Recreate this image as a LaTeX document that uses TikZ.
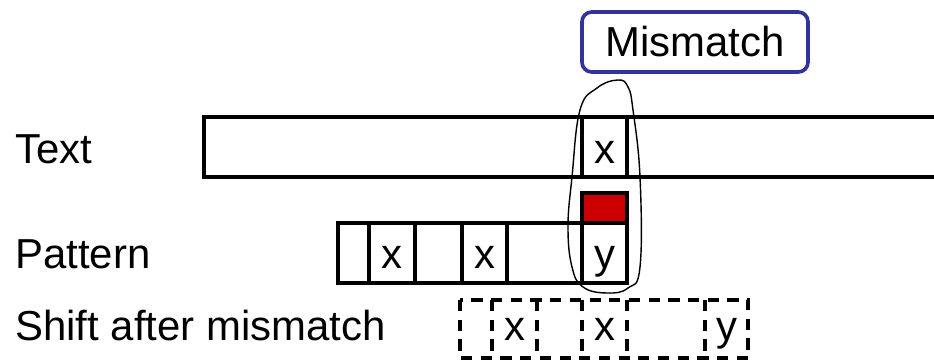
\documentclass[tikz,border=0pt]{standalone}
\usepackage{fontspec}
\setmainfont{Liberation Sans}
\usepackage{xcolor}
\definecolor{mismatchblue}{RGB}{51,51,153}
\definecolor{mismatchred}{RGB}{204,0,0}

\begin{document}
\begin{tikzpicture}[x=0.025cm, y=-0.025cm, font=\fontsize{29.8}{34}\selectfont,
	cellbox/.style={line width=3pt},
	shiftbox/.style={line width=3pt, dash pattern=on 8pt off 6pt},
	letter/.style={anchor=base, inner sep=0pt},
	rowlabel/.style={anchor=base west, inner sep=0pt}]
	% Parameters
	\def\ttop{117}
	\def\tbot{177}
	\def\ptop{223}
	\def\pbot{283}
	\def\stop{300}
	\def\sbot{358}
	
	\clip (0,0) rectangle (934,361);
	
	%labels
	\node[rowlabel] (ltext) at (15,163) {Text};
	\node[rowlabel] (lpattern) at (15,268) {Pattern};
	\node[rowlabel] (lshift) at (15,340) {Shift after mismatch};
	
	%text
	\draw[cellbox] (204,\ttop) rectangle (960,\tbot);
	\draw[cellbox] (582,\ttop) rectangle (627,\tbot);
	\node[letter] (tx) at (604.5,163) {x};
	
	%pattern
	\draw[cellbox] (338,\ptop) rectangle (627,\pbot);
	\foreach \x in {369,415,462,507,582} {
		\draw[cellbox] (\x,\ptop) -- (\x,\pbot);
	}
	\node[letter] (px1) at (392,268) {x};
	\node[letter] (px2) at (484.5,268) {x};
	\node[letter] (py) at (604.5,268) {y};
	
	%mismatch marker
	\draw[cellbox, fill=mismatchred] (582,193) rectangle (627,223);
	
	%shift after mismatch
	\draw[shiftbox] (460,\stop) rectangle (748,\sbot);
	\foreach \x in {492,537,582,627,705} {
		\draw[shiftbox] (\x,\stop) -- (\x,\sbot);
	}
	\node[letter] (sx1) at (514.5,340) {x};
	\node[letter] (sx2) at (604.5,340) {x};
	\node[letter] (sy) at (726.5,340) {y};
	
	%callout
	\node[draw=mismatchblue, line width=2.6pt, rounded corners=7pt, minimum width=5.65cm, minimum height=1.5cm, inner sep=0pt] (mm) at (695,42) {Mismatch};
	\draw[line width=1pt] plot[smooth cycle, tension=0.7] coordinates {(618,80) (628,87) (633,110) (640,177) (640,267) (628,288) (607,293) (583,287) (572,267) (568,227) (572,177) (580,110) (597,88)};
	
\end{tikzpicture}
\end{document}
